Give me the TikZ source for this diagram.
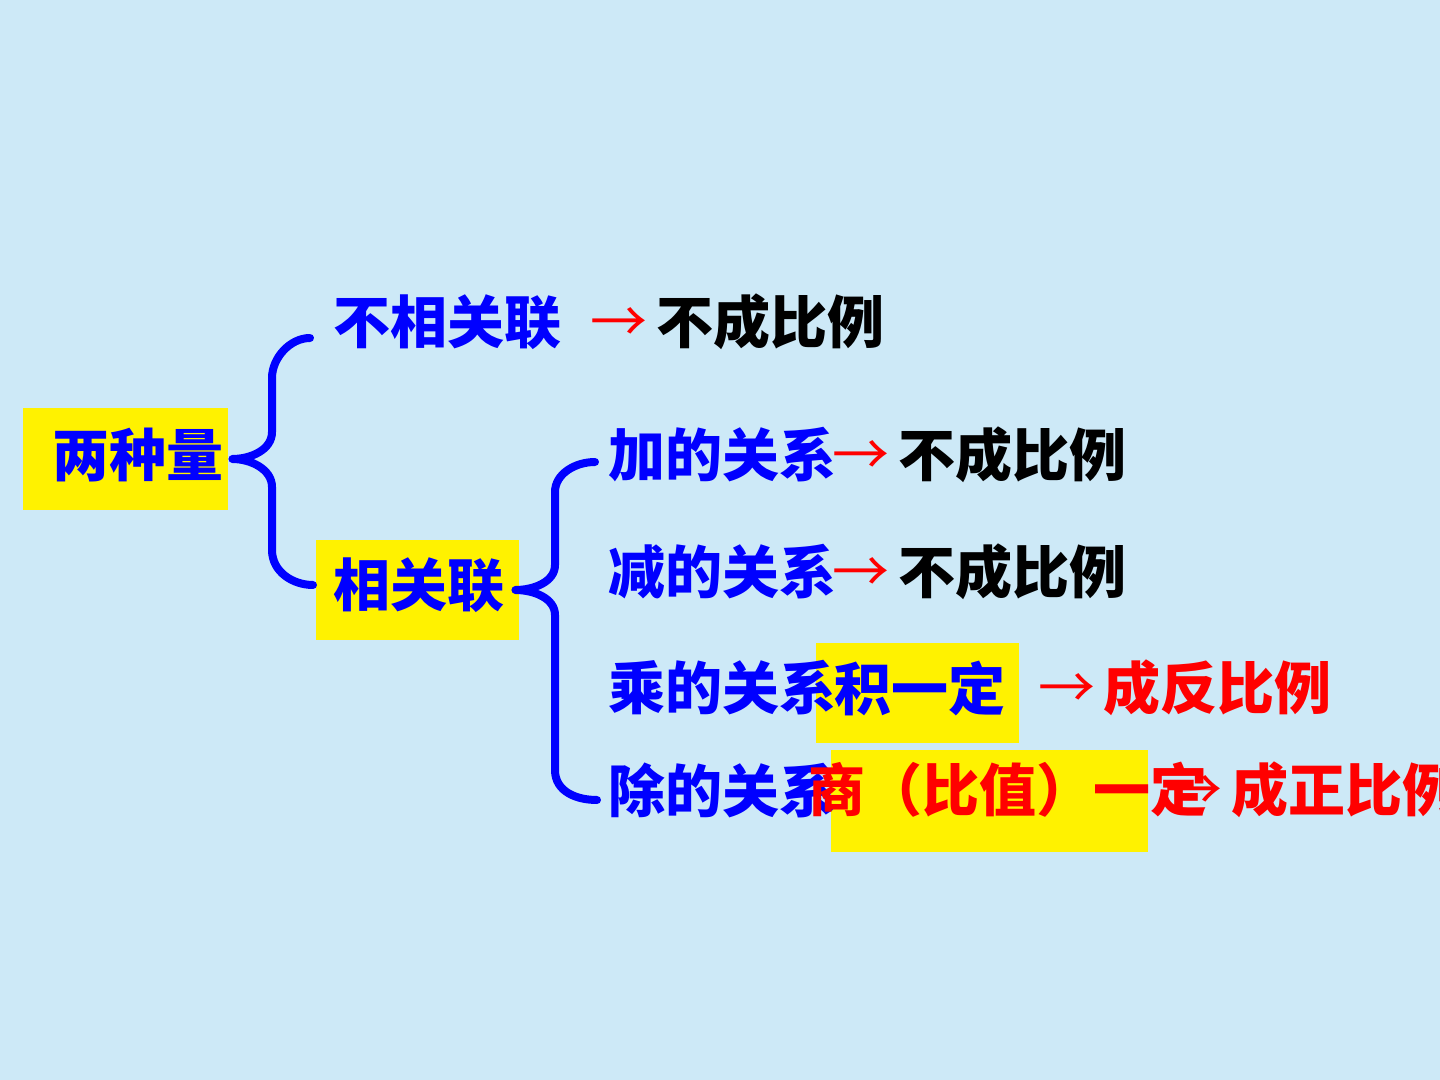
\documentclass[tikz,border=0pt]{standalone}
\usepackage{fontspec}
\newfontfamily\cjk{Noto Sans CJK SC}
\definecolor{bg}{RGB}{205,233,247}
\definecolor{ppblue}{RGB}{0,0,255}
\definecolor{ppred}{RGB}{255,0,0}
\begin{document}
\begin{tikzpicture}[x=0.5pt,y=-0.5pt,
  txt/.style={font=\cjk\bfseries\fontsize{28.5pt}{30pt}\selectfont, inner sep=0pt, anchor=west},
  arr/.style={font=\cjk\fontsize{28.5pt}{30pt}\selectfont, inner sep=0pt, anchor=west, text=ppred},
  ybox/.style={fill=yellow, inner sep=0pt, draw=none},
  brace/.style={draw=ppblue, line width=4pt, line cap=round, line join=round}]
\useasboundingbox (0,0) rectangle (1440,1080);
\clip (0,0) rectangle (1440,1080);
\fill[bg] (0,0) rectangle (1440,1080);
% yellow boxes
\node[ybox, minimum width=102.5pt, minimum height=51pt] (rbox) at (125.5,459) {};
\node[ybox, minimum width=101.5pt, minimum height=50pt] (xbox) at (417.5,590) {};
\node[ybox, minimum width=101.5pt, minimum height=50pt] (jbox) at (917.5,693) {};
\node[ybox, minimum width=158.5pt, minimum height=51pt] (sbox) at (989.5,801) {};
% texts
\node[txt, text=ppblue] (rt) at (52,455) {两种量};
\node[txt, text=ppblue] (bxg) at (333,322) {不相关联};
\node[arr] (a1) at (590,325) {→};
\node[txt, text=black] (n1) at (656,322) {不成比例};
\node[txt, text=ppblue] (xg) at (333,585) {相关联};
\node[txt, text=ppblue] (jia) at (608,455) {加的关系};
\node[arr] (a2) at (832,458) {→};
\node[txt, text=black] (n2) at (898,455) {不成比例};
\node[txt, text=ppblue] (jian) at (608,572) {减的关系};
\node[arr] (a3) at (832,575) {→};
\node[txt, text=black] (n3) at (898,572) {不成比例};
\node[txt, text=ppblue] (cheng) at (608,688) {乘的关系};
\node[txt, text=ppblue] (ji) at (834,688) {积一定};
\node[arr] (a4) at (1038,691) {→};
\node[txt, text=ppred] (fan) at (1103,688) {成反比例};
\node[txt, text=ppblue] (chu) at (608,790) {除的关系};
\node[arr] (a5) at (1165,793) {→};
\node[txt, text=ppred] (shang) at (808,790) {商（比值）一定};
\node[txt, text=ppred] (zheng) at (1231,790) {成正比例};
% braces
\draw[brace] ([xshift=-11.5pt,yshift=-8pt]bxg.west) .. controls +(-20,0) and +(0,-20) .. (272,378)
  -- (272,432) .. controls +(0,18) and +(18,0) .. ([xshift=2pt]rbox.east)
  .. controls +(18,0) and +(0,-18) .. (272,487)
  -- (272,550) .. controls +(0,22) and +(-20,0) .. ([xshift=-10pt]xg.west);
\draw[brace] ([xshift=-6.5pt,yshift=-3.5pt]jia.west) .. controls +(-20,0) and +(0,-18) .. (555,492)
  -- (555,565) .. controls +(0,17) and +(18,0) .. ([xshift=-2pt]xbox.east)
  .. controls +(18,0) and +(0,-17) .. (555,615)
  -- (555,770) .. controls +(0,22) and +(-20,0) .. ([xshift=-5.5pt,yshift=-5pt]chu.west);
\end{tikzpicture}
\end{document}
